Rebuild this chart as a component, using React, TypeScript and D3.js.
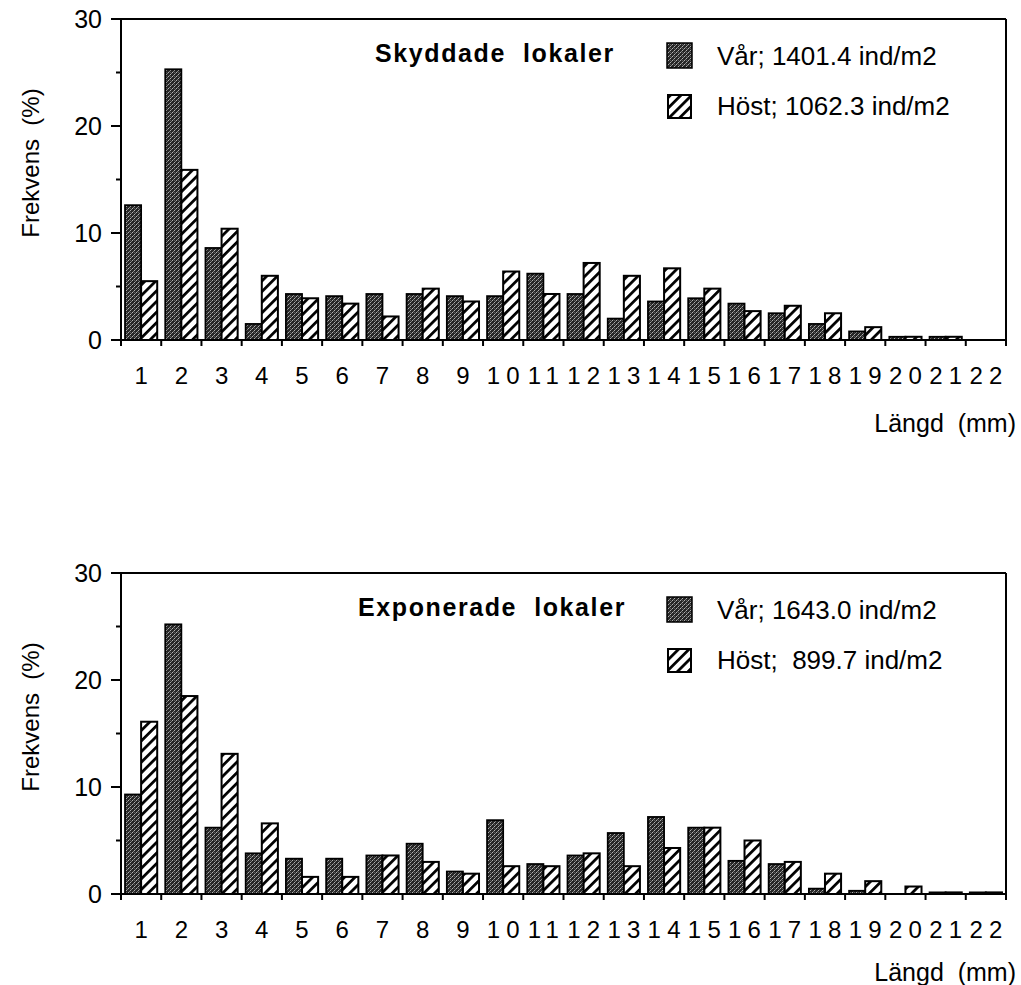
import React from 'react'
import * as d3 from 'd3'

const categories = ['1', '2', '3', '4', '5', '6', '7', '8', '9', '10', '11', '12', '13', '14', '15', '16', '17', '18', '19', '20', '21', '22']

const skyddadeVar = [12.6, 25.3, 8.6, 1.5, 4.3, 4.1, 4.3, 4.3, 4.1, 4.1, 6.2, 4.3, 2.0, 3.6, 3.9, 3.4, 2.5, 1.5, 0.8, 0.3, 0.3, 0]
const skyddadeHost = [5.5, 15.9, 10.4, 6.0, 3.9, 3.4, 2.2, 4.8, 3.6, 6.4, 4.3, 7.2, 6.0, 6.7, 4.8, 2.7, 3.2, 2.5, 1.2, 0.3, 0.3, 0]

const exponeradeVar = [9.3, 25.2, 6.2, 3.8, 3.3, 3.3, 3.6, 4.7, 2.1, 6.9, 2.8, 3.6, 5.7, 7.2, 6.2, 3.1, 2.8, 0.5, 0.3, 0, 0.15, 0.15]
const exponeradeHost = [16.1, 18.5, 13.1, 6.6, 1.6, 1.6, 3.6, 3.0, 1.9, 2.6, 2.6, 3.8, 2.6, 4.3, 6.2, 5.0, 3.0, 1.9, 1.2, 0.7, 0.15, 0.15]

const majorTicks = [0, 10, 20, 30]
const minorTicks = [5, 15, 25]

const font = '"Liberation Sans", Arial, Helvetica, sans-serif'
const left = 121
const right = 1006

const Panel = ({ top, bottom, title, titleX, varLabel, hostLabel, varValues, hostValues, xTitleDy }) => {
    const x = d3.scaleBand().domain(categories).range([left, right]).padding(0)
    const sub = d3.scaleBand().domain(['var', 'host']).range([0, x.bandwidth()]).paddingOuter(0.25)
    const y = d3.scaleLinear().domain([0, 30]).range([bottom, top])
    const digitLs = 6.2
    return (
        <g>
            {categories.map((c, i) => (
                <g key={c}>
                    <rect x={x(c) + sub('var')} width={sub.bandwidth()} y={y(varValues[i])}
                        height={y(0) - y(varValues[i])} fill="url(#dither)" stroke="#000" strokeWidth={1.8} />
                    <rect x={x(c) + sub('host')} width={sub.bandwidth()} y={y(hostValues[i])}
                        height={y(0) - y(hostValues[i])} fill="url(#hatch)" stroke="#000" strokeWidth={2} />
                </g>
            ))}
            {/* frame */}
            <line x1={left - 10} x2={right} y1={y(30)} y2={y(30)} stroke="#000" strokeWidth={2} />
            <line x1={right} x2={right} y1={y(30)} y2={y(0) + 6} stroke="#000" strokeWidth={2} />
            <line x1={left} x2={left} y1={y(30)} y2={y(0) + 6} stroke="#000" strokeWidth={2} />
            <line x1={left - 10} x2={right} y1={y(0)} y2={y(0)} stroke="#000" strokeWidth={2} />
            {majorTicks.map(t => (
                <g key={t}>
                    <line x1={left - 10} x2={left} y1={y(t)} y2={y(t)} stroke="#000" strokeWidth={2} />
                    <text x={102} y={y(t) + 9} textAnchor="end" fontSize={25} fontFamily={font}>{t}</text>
                </g>
            ))}
            {minorTicks.map(t => (
                <line key={t} x1={left - 5} x2={left} y1={y(t)} y2={y(t)} stroke="#000" strokeWidth={2} />
            ))}
            {categories.map(c => (
                <line key={c} x1={x(c)} x2={x(c)} y1={y(0)} y2={y(0) + 6} stroke="#000" strokeWidth={2} />
            ))}
            {categories.map(c => (
                <text key={c} x={x(c) + x.bandwidth() / 2 + digitLs / 2} y={y(0) + 44} textAnchor="middle"
                    fontSize={24} letterSpacing={digitLs} fontFamily={font}>{c}</text>
            ))}
            <text x={1016} y={y(0) + xTitleDy} textAnchor="end" fontSize={25} fontFamily={font}
                style={{ whiteSpace: 'pre' }}>{'Längd  (mm)'}</text>
            <text transform={`translate(39,${top + 144}) rotate(-90)`} textAnchor="middle" fontSize={24}
                fontFamily={font} style={{ whiteSpace: 'pre' }}>{'Frekvens  (%)'}</text>
            <text x={titleX} y={top + 43} fontSize={25} fontWeight="bold" letterSpacing={1.6} fontFamily={font}
                style={{ whiteSpace: 'pre' }}>{title}</text>
            <rect x={667} y={top + 24} width={25} height={25} fill="url(#dither)" stroke="#000" strokeWidth={1.5} />
            <rect x={668} y={top + 76} width={23} height={23} fill="url(#hatch)" stroke="#000" strokeWidth={2} />
            <text x={717} y={top + 46} fontSize={26} fontFamily={font} style={{ whiteSpace: 'pre' }}>{varLabel}</text>
            <text x={717} y={top + 96} fontSize={26} fontFamily={font} style={{ whiteSpace: 'pre' }}>{hostLabel}</text>
        </g>
    )
}

const App = () => {
    return (
        <svg width={1021} height={985} style={{ position: 'absolute', left: 0, top: 0, background: '#fff' }}>
            <defs>
                <pattern id="dither" width={4} height={4} patternUnits="userSpaceOnUse">
                    <rect width={4} height={4} fill="#262626" />
                    <rect x={0} y={0} width={1} height={1} fill="#b0b0b0" />
                    <rect x={2} y={2} width={1} height={1} fill="#b0b0b0" />
                    <rect x={1} y={3} width={1} height={1} fill="#808080" />
                    <rect x={3} y={1} width={1} height={1} fill="#808080" />
                    <rect x={2} y={0} width={1} height={1} fill="#5a5a5a" />
                </pattern>
                <pattern id="hatch" width={7.5} height={7.5} patternUnits="userSpaceOnUse" patternTransform="rotate(45)">
                    <rect width={7.5} height={7.5} fill="#fff" />
                    <line x1={0} y1={0} x2={0} y2={7.5} stroke="#000" strokeWidth={5.5} />
                </pattern>
            </defs>
            <Panel top={19} bottom={340} title="Skyddade  lokaler" titleX={375}
                varLabel="Vår; 1401.4 ind/m2" hostLabel="Höst; 1062.3 ind/m2"
                varValues={skyddadeVar} hostValues={skyddadeHost} xTitleDy={92} />
            <Panel top={573} bottom={894} title="Exponerade  lokaler" titleX={358}
                varLabel="Vår; 1643.0 ind/m2" hostLabel="Höst;  899.7 ind/m2"
                varValues={exponeradeVar} hostValues={exponeradeHost} xTitleDy={87} />
        </svg>
    )
}

export default App
